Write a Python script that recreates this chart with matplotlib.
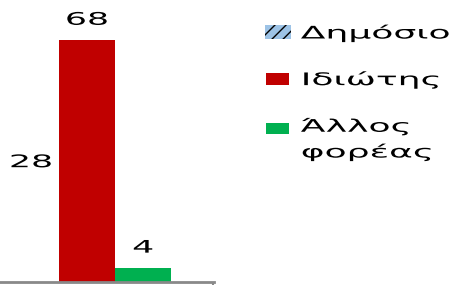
import matplotlib
matplotlib.use('Agg')
import matplotlib.pyplot as plt
from matplotlib.patches import Patch, Rectangle
from matplotlib.patheffects import AbstractPathEffect
from matplotlib.transforms import Affine2D
from matplotlib.legend_handler import HandlerPatch

# data
categories = ['Δημόσιο', 'Ιδιώτης', 'Άλλος\nφορέας']
values = [28, 68, 4]
colors = ['#9DC3E6', '#C00000', '#00B050']
hatches = ['///', None, None]


class WideText(AbstractPathEffect):
    """Stretch glyphs horizontally (the source chart uses a wide, stretched font)."""
    def __init__(self, sx=2.0, center=True):
        super().__init__()
        self.sx = sx
        self.center = center

    def draw_path(self, renderer, gc, tpath, affine, rgbFace=None):
        cx = 0
        if self.center and len(tpath.vertices):
            ext = tpath.get_extents()
            cx = (ext.x0 + ext.x1) / 2
        stretch = Affine2D().translate(-cx, 0).scale(self.sx, 1).translate(cx, 0)
        renderer.draw_path(gc, tpath, stretch + affine, rgbFace)


def legend_box(legend, orig_handle, xdescent, ydescent, width, height, fontsize):
    # hatched key is drawn a bit larger in the source; multi-line label keeps its key on line 1
    label = orig_handle.get_label()
    if '\n' in label:
        return Rectangle((-xdescent, -ydescent + 8.6), width, height)
    if orig_handle.get_hatch():
        return Rectangle((-xdescent - 1, -ydescent - 1), width + 2.5, height + 2)
    return Rectangle((-xdescent, -ydescent), width, height)


fig = plt.figure(figsize=(4.57, 2.85), dpi=100)
ax = fig.add_axes([0, 3 / 285, 214 / 457, 282 / 285])

x = list(range(len(values)))
bars = ax.bar(x, values, width=1.0, color=colors, edgecolor='none')
bars[0].set_alpha(0)  # public-sector bar is not rendered in the source

labels = ax.bar_label(bars, padding=8, fontsize=12.5)
for t in labels:
    t.set_path_effects([WideText(2.0)])

ax.set_xlim(-0.554, 3.268)
ax.set_ylim(0, 79.2)

for s in ['top', 'left', 'right']:
    ax.spines[s].set_visible(False)
ax.spines['bottom'].set_color('#898989')
ax.spines['bottom'].set_linewidth(2)
ax.set_yticks([])
ax.set_xticks([3.25])
ax.set_xticklabels([''])
ax.tick_params(axis='x', length=3, width=1.5, color='#898989')

handles = [Patch(facecolor=c, edgecolor='black' if h else c, hatch=h, linewidth=0, label=lab)
           for c, h, lab in zip(colors, hatches, categories)]
leg = ax.legend(handles=handles, loc='upper left',
                bbox_to_anchor=(266 / 457, 1 - 24 / 285), bbox_transform=fig.transFigure,
                frameon=False, fontsize=12.5, handlelength=1.3, handleheight=0.6,
                handletextpad=0.7, labelspacing=1.62, borderaxespad=0, borderpad=0,
                handler_map={Patch: HandlerPatch(patch_func=legend_box)})
for t in leg.get_texts():
    t.set_linespacing(1.5)
    t.set_path_effects([WideText(2.08, center=False)])

fig.savefig('out.png', dpi=100)
